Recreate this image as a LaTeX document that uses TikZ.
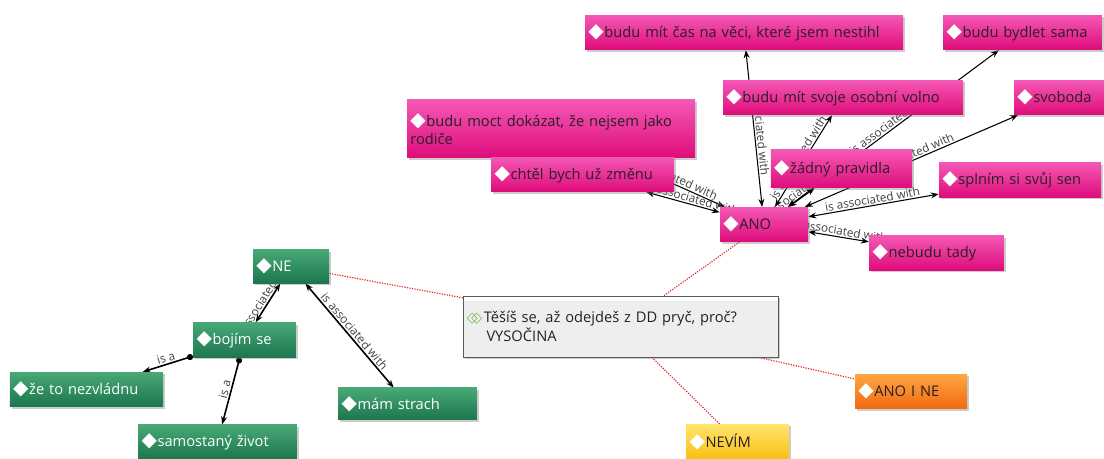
\documentclass[tikz,border=0pt]{standalone}
\usepackage{fontspec}
\setmainfont{Open Sans}
\newfontfamily\symfont{DejaVu Sans}
\usepackage{tikz}
\usetikzlibrary{positioning, arrows.meta, backgrounds, shadows}

\definecolor{rosaoben}{RGB}{244,88,182}
\definecolor{rosaunten}{RGB}{222,12,122}
\definecolor{gruenoben}{RGB}{72,168,118}
\definecolor{gruenunten}{RGB}{28,118,78}
\definecolor{orangeoben}{RGB}{255,166,66}
\definecolor{orangeunten}{RGB}{240,106,16}
\definecolor{gelboben}{RGB}{255,228,110}
\definecolor{gelbunten}{RGB}{250,192,18}
\definecolor{fragegrau}{RGB}{238,238,238}
\definecolor{symbolgruen}{RGB}{120,190,90}
\definecolor{schrift}{RGB}{40,30,40}
\definecolor{punktrot}{RGB}{230,40,40}

\newcommand{\raute}{{\symfont\fontsize{15}{15}\selectfont\textcolor{white}{◆}}\hspace{0.5pt}}
\newcommand{\doppelraute}{{\symfont\textcolor{symbolgruen}{◇\kern-0.45em◇}}\hspace{1pt}}

\begin{document}
\begin{tikzpicture}[
            x=0.75pt, y=-0.75pt,
            kasten/.style={
                    rectangle,
                    inner xsep=2.5pt,
                    inner ysep=2pt,
                    minimum height=26pt,
                    align=left,
                    font=\fontsize{11}{14}\selectfont,
                    drop shadow={shadow xshift=1.5pt, shadow yshift=-1.5pt, opacity=0.4}
                },
            rosa/.style={
                    kasten,
                    top color=rosaoben,
                    bottom color=rosaunten,
                    text=schrift
                },
            gruen/.style={
                    kasten,
                    top color=gruenoben,
                    bottom color=gruenunten,
                    text=white
                },
            orange/.style={
                    kasten,
                    top color=orangeoben,
                    bottom color=orangeunten,
                    text=schrift
                },
            gelb/.style={
                    kasten,
                    top color=gelboben,
                    bottom color=gelbunten,
                    text=schrift
                },
            frage/.style={
                    kasten,
                    draw=gray!70!black,
                    fill=fragegrau,
                    text=schrift,
                    minimum height=46pt,
                    path picture={
                            \fill[white] (path picture bounding box.north west)
                                rectangle ([yshift=-4pt]path picture bounding box.north east);
                        }
                },
            assoz/.style={
                    draw,
                    {Stealth[length=6pt]}-{Stealth[length=6pt]},
                    line width=0.8pt,
                    color=black
                },
            istein/.style={
                    draw,
                    {Stealth[length=6pt]}-{Circle[length=4.5pt]},
                    line width=1.2pt,
                    color=black
                },
            punkte/.style={
                    draw,
                    densely dotted,
                    line width=0.9pt,
                    color=punktrot
                },
            beschr/.style={
                    midway,
                    sloped,
                    above,
                    inner sep=1pt,
                    font=\fontsize{8.8}{9}\selectfont,
                    color=black!75
                }
        ]

        \useasboundingbox (0,0) rectangle (1104,459);

        \node[rosa, text width=233.5pt] (zeit) at (744,32.5) {\raute budu mít čas na věci, které jsem nestihl};
        \node[rosa, text width=114pt] (bydlet) at (1022.5,32.5) {\raute budu bydlet sama};
        \node[rosa, text width=211pt, minimum height=43.5pt] (rodice) at (551,129) {\raute budu moct dokázat, že nejsem jako\\rodiče};
        \node[rosa, text width=175pt] (volno) at (843,97.5) {\raute budu mít svoje osobní volno};
        \node[rosa, text width=62.5pt] (svoboda) at (1059,97.5) {\raute svoboda};
        \node[rosa, text width=132pt] (zmena) at (582.5,174.5) {\raute chtěl bych už změnu};
        \node[rosa, text width=101pt, minimum height=28.5pt] (pravidla) at (841.5,169) {\raute žádný pravidla};
        \node[rosa, text width=116.5pt] (sen) at (1020,180) {\raute splním si svůj sen};
        \node[rosa, text width=61pt] (ano) at (764,224.5) {\raute ANO};
        \node[rosa, text width=96pt] (nebudu) at (936.5,253) {\raute nebudu tady};

        \node[gruen, text width=52pt, minimum height=25pt] (ne) at (291,266.5) {\raute NE};
        \node[gruen, text width=72pt] (bojim) at (244.5,340) {\raute bojím se};
        \node[gruen, text width=110pt] (nezvladnu) at (86.5,389.5) {\raute že to nezvládnu};
        \node[gruen, text width=99pt, minimum height=24pt] (strach) at (407.5,404) {\raute mám strach};
        \node[gruen, text width=114pt] (zivot) at (217.5,442) {\raute samostaný život};

        \node[frage, text width=231pt] (frage) at (620.5,326.5) {\doppelraute Těšíš se, až odejdeš z DD pryč, proč?\\\hspace*{15pt}VYSOČINA};

        \node[orange, text width=79pt] (anoine) at (911,391.5) {\raute ANO I NE};
        \node[gelb, text width=72pt] (nevim) at (737.5,441.5) {\raute NEVÍM};

        \begin{scope}[on background layer]
            \draw[punkte] (frage) -- (ne);
            \draw[punkte] (frage) -- (ano);
            \draw[punkte] (frage) -- (anoine);
            \draw[punkte] (frage) -- (nevim);

            \draw[assoz] (zeit) -- node[beschr] {is associated with} (ano);
            \draw[assoz] (rodice) -- node[beschr] {is associated with} (ano);
            \draw[assoz] (zmena) -- node[beschr, pos=0.6] {is associated with} (ano);
            \draw[assoz] (ano) -- node[beschr] {is associated with} (volno);
            \draw[assoz] (ano) -- node[beschr] {is associated with} (bydlet);
            \draw[assoz] (ano) -- node[beschr] {is associated with} (svoboda);
            \draw[assoz] (ano) -- node[beschr] {is associated with} (pravidla);
            \draw[assoz] (ano) -- node[beschr] {is associated with} (sen);
            \draw[assoz] (ano) -- node[beschr] {is associated with} (nebudu);

            \draw[assoz, line width=1.2pt] (bojim) -- node[beschr] {is associated with} (ne);
            \draw[assoz, line width=1.2pt] (ne) -- node[beschr] {is associated with} (strach);
            \draw[istein] (nezvladnu) -- node[beschr] {is a} (bojim);
            \draw[istein] (zivot) -- node[beschr] {is a} (bojim);
        \end{scope}

    \end{tikzpicture}
\end{document}
